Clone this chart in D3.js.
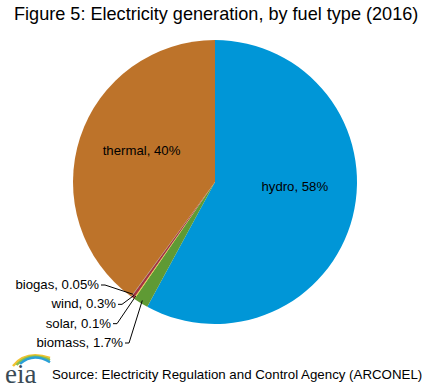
<!DOCTYPE html>
<html>
<head>
<meta charset="utf-8">
<script src="https://cdn.jsdelivr.net/npm/d3@7"></script>
<style>
  body { margin: 0; background: #fff; }
  svg text { font-family: "Liberation Sans", Arial, sans-serif; }
</style>
</head>
<body>
<div id="mainDiv"></div>
<script>
// fuel types, clockwise from 12 o'clock
var fuels = ["hydro", "biomass", "solar", "wind", "biogas", "thermal"];
var shares = [58, 1.7, 0.1, 0.3, 0.05, 40];
var shareLabels = ["58%", "1.7%", "0.1%", "0.3%", "0.05%", "40%"];
var fuelColors = ["#0096d7", "#5f9a34", "#f0d02c", "#a5343f", "#7f7f7f", "#bd732a"];

var width = 435, height = 391;
var cx = 215, cy = 182, radius = 142;
var labelSize = 13.2;

var svg = d3.select("#mainDiv").append("svg")
    .attr("width", width).attr("height", height).attr("id", "mainCanvas");

svg.append("text").attr("x", 14).attr("y", 20)
    .attr("font-size", 18.1).attr("fill", "#000")
    .text("Figure 5: Electricity generation, by fuel type (2016)");

var pie = d3.pie().sort(null).value(function(d) { return d; });
var arcs = pie(shares);
var arc = d3.arc().innerRadius(0).outerRadius(radius);

var pieG = svg.append("g").attr("transform", "translate(" + cx + "," + cy + ")");

pieG.selectAll("path").data(arcs).enter().append("path")
    .attr("d", arc)
    .attr("fill", function(d, i) { return fuelColors[i]; });

// labels inside the two big slices (positions tweaked by hand)
var insideLabel = d3.arc().innerRadius(radius * 0.5).outerRadius(radius * 0.5);
var insideNudge = { 0: [11, -8], 5: [-6, -5] };
[0, 5].forEach(function(i) {
    var c = insideLabel.centroid(arcs[i]);
    pieG.append("text")
        .attr("x", c[0] + insideNudge[i][0]).attr("y", c[1] + insideNudge[i][1])
        .attr("text-anchor", "middle").attr("font-size", labelSize).attr("fill", "#000")
        .text(fuels[i] + ", " + shareLabels[i]);
});

// small slices get leader lines out to the left
var smallOrder = [4, 3, 2, 1]; // biogas, wind, solar, biomass (top to bottom)
var labelY = d3.scaleLinear().domain([0, 3]).range([289, 347]);
var labelEndX = [100, 117, 112, 124];

smallOrder.forEach(function(idx, k) {
    var a = arcs[idx];
    var mid = (a.startAngle + a.endAngle) / 2;
    var px = cx + (radius - 3) * Math.sin(mid);
    var py = cy - (radius - 3) * Math.cos(mid);
    var ly = labelY(k) - 4;
    var lx = labelEndX[k];
    svg.append("polyline")
        .attr("points", [[lx + 1, ly], [lx + 5, ly], [px, py]].map(function(p) { return p.join(","); }).join(" "))
        .attr("fill", "none").attr("stroke", "#000").attr("stroke-width", 1);
    svg.append("text")
        .attr("x", lx - 1).attr("y", labelY(k))
        .attr("text-anchor", "end").attr("font-size", labelSize).attr("fill", "#000")
        .text(fuels[idx] + ", " + shareLabels[idx]);
});

// eia logo
var logo = svg.append("g").attr("transform", "translate(4,350)");
var swoosh = [["#f2c230", 0], ["#8cc04a", 3.5], ["#2aa0d8", 7]];
swoosh.forEach(function(s) {
    logo.append("path")
        .attr("d", "M" + (9 + s[1]) + "," + (16 - s[1] * 0.3) + " Q" + (22 + s[1]) + "," + (0 + s[1] * 0.3) + " 46," + (8 + s[1] * 0.6))
        .attr("fill", "none").attr("stroke", s[0]).attr("stroke-width", 2.4);
});
logo.append("text").attr("x", 1).attr("y", 33)
    .attr("font-size", 27).attr("fill", "#3a4a55")
    .style("font-family", "'Liberation Serif', 'DejaVu Serif', serif")
    .text("eia");

svg.append("text").attr("x", 52).attr("y", 379)
    .attr("font-size", 13.3).attr("fill", "#000")
    .text("Source: Electricity Regulation and Control Agency (ARCONEL)");
</script>
</body>
</html>
